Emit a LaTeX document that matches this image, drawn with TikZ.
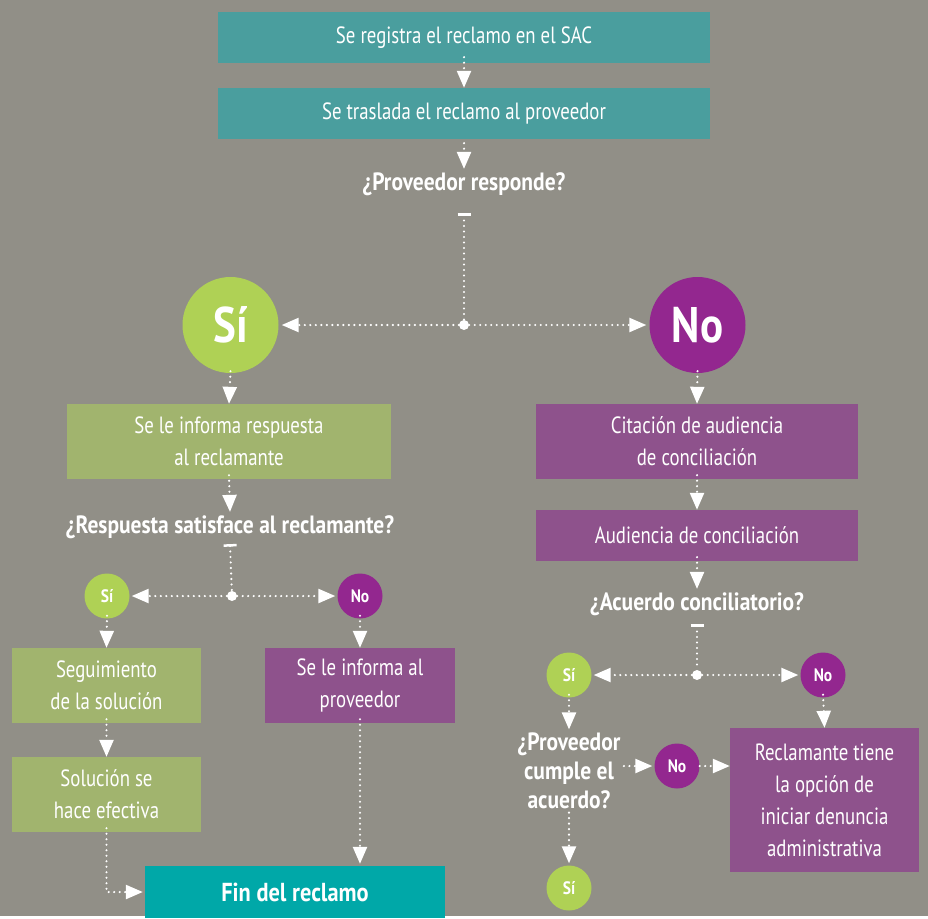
\documentclass[tikz,border=0pt]{standalone}
\usepackage{fontspec}
\setmainfont{PT Sans}[FakeStretch=0.8, BoldFeatures={FakeStretch=0.86}]
\usetikzlibrary{arrows.meta}
\definecolor{fondo}{HTML}{918F87}
\definecolor{tealbox}{HTML}{4A9E9E}
\definecolor{verdebox}{HTML}{A1B46E}
\definecolor{moradobox}{HTML}{8E528C}
\definecolor{verdecirc}{HTML}{AFD155}
\definecolor{moradocirc}{HTML}{93278F}
\definecolor{finbox}{HTML}{00A8A8}
\begin{document}
\begin{tikzpicture}[x=1pt, y=-1pt,
  caja/.style={rectangle, text=white, align=center, inner sep=0pt, font=\fontsize{23.5}{32}\selectfont},
  pregunta/.style={text=white, align=center, font=\bfseries\fontsize{25}{29}\selectfont},
  bolagrande/.style={circle, minimum size=96pt, inner sep=0pt, text=white, font=\bfseries\fontsize{50}{50}\selectfont},
  bola/.style={circle, minimum size=45pt, inner sep=0pt, text=white, font=\bfseries\fontsize{18}{18}\selectfont},
  punto/.style={circle, fill=white, minimum size=10pt, inner sep=0pt},
  flecha/.style={white, line width=2.4pt, line cap=round, dash pattern=on 0pt off 5.5pt, -{Triangle[width=14pt,length=17pt]}},
  ramal/.style={white, line width=2.4pt, line cap=round, dash pattern=on 0pt off 5.5pt, {Bar[width=13pt,line width=2.5pt]}-}
]
\fill[fondo] (0,0) rectangle (928,916);

\node[caja, fill=tealbox, minimum width=492pt, minimum height=51pt] (registro) at (464,37.5) {Se registra el reclamo en el SAC};
\node[caja, fill=tealbox, minimum width=492pt, minimum height=51pt] (traslado) at (464,113.5) {Se traslada el reclamo al proveedor};
\node[pregunta] (pregresp) at (464,184) {¿Proveedor responde?};
\node[punto] (forkA) at (464,325) {};
\node[bolagrande, fill=verdecirc] (siA) at (230.5,325) {Sí};
\node[bolagrande, fill=moradocirc] (noA) at (697.5,325) {No};

\node[caja, fill=verdebox, minimum width=324pt, minimum height=75pt] (informa) at (229,441.5) {Se le informa respuesta\\al reclamante};
\node[caja, fill=moradobox, minimum width=322pt, minimum height=75pt] (citacion) at (697,441.5) {Citación de audiencia\\de conciliación};
\node[pregunta] (pregsatis) at (230,527) {¿Respuesta satisface al reclamante?};
\node[caja, fill=moradobox, minimum width=322pt, minimum height=51pt] (audiencia) at (697,535.5) {Audiencia de conciliación};

\node[punto] (forkB) at (232,596) {};
\node[bola, fill=verdecirc] (siB) at (107,596) {Sí};
\node[bola, fill=moradocirc] (noB) at (360,596) {No};
\node[caja, fill=verdebox, minimum width=189pt, minimum height=75pt] (seguimiento) at (106.5,685.5) {Seguimiento\\de la solución};
\node[caja, fill=moradobox, minimum width=190pt, minimum height=75pt] (informaprov) at (360,685.5) {Se le informa al\\proveedor};
\node[caja, fill=verdebox, minimum width=189pt, minimum height=75pt] (solucion) at (106.5,794.5) {Solución se\\hace efectiva};
\node[caja, fill=finbox, minimum width=300pt, minimum height=52pt, font=\bfseries\fontsize{26}{28}\selectfont] (fin) at (295,892) {Fin del reclamo};

\node[pregunta] (pregacuerdo) at (697,604) {¿Acuerdo conciliatorio?};
\node[punto] (forkC) at (697,675) {};
\node[bola, fill=verdecirc] (siC) at (569,675) {Sí};
\node[bola, fill=moradocirc] (noC) at (823,675) {No};
\node[pregunta] (pregcumple) at (569,771) {¿Proveedor\\cumple el\\acuerdo?};
\node[bola, fill=moradocirc] (noD) at (677,766) {No};
\node[bola, fill=verdecirc] (siD) at (569,888) {Sí};
\node[caja, fill=moradobox, minimum width=189pt, minimum height=144pt] (reclamante) at (824.5,800) {Reclamante tiene\\la opción de\\iniciar denuncia\\administrativa};

\draw[flecha] ([yshift=6pt]registro.south) -- (traslado.north);
\draw[flecha] ([yshift=-4pt]traslado.south) -- (pregresp.north);
\draw[ramal] ([yshift=-14pt]pregresp.south) -- (forkA);
\draw[flecha, shorten >=3pt] (forkA) -- (siA);
\draw[flecha, shorten >=3pt] (forkA) -- (noA);
\draw[flecha] ([yshift=2pt]siA.south) -- (informa.north);
\draw[flecha] ([yshift=2pt]noA.south) -- (citacion.north);
\draw[flecha] ([yshift=4pt]informa.south) -- (pregsatis.north);
\draw[flecha] ([yshift=4pt]citacion.south) -- (audiencia.north);
\draw[ramal] ([yshift=-2pt]pregsatis.south) -- (forkB);
\draw[flecha, shorten >=2pt] (forkB) -- (siB);
\draw[flecha, shorten >=2pt] (forkB) -- (noB);
\draw[flecha] ([yshift=3pt]siB.south) -- (seguimiento.north);
\draw[flecha] ([yshift=3pt]noB.south) -- (informaprov.north);
\draw[flecha] ([yshift=4pt]seguimiento.south) -- (solucion.north);
\draw[flecha, shorten >=2pt] ([yshift=4pt]solucion.south) |- (fin.west);
\draw[flecha, shorten >=2pt] ([yshift=4pt]informaprov.south) -- (informaprov.south |- fin.north);
\draw[flecha] ([yshift=4pt]audiencia.south) -- (pregacuerdo.north);
\draw[ramal] ([yshift=-5pt]pregacuerdo.south) -- (forkC);
\draw[flecha, shorten >=2pt] (forkC) -- (siC);
\draw[flecha, shorten >=2pt] (forkC) -- (noC);
\draw[flecha] ([yshift=3pt]noC.south) -- (reclamante.north);
\draw[flecha] ([yshift=3pt]siC.south) -- (pregcumple.north);
\draw[flecha, shorten >=2pt] (pregcumple.east |- noD) -- (noD.west);
\draw[flecha] (noD.east) -- (noD -| reclamante.west);
\draw[flecha, shorten >=2pt] (pregcumple.south) -- (siD.north);
\end{tikzpicture}
\end{document}
